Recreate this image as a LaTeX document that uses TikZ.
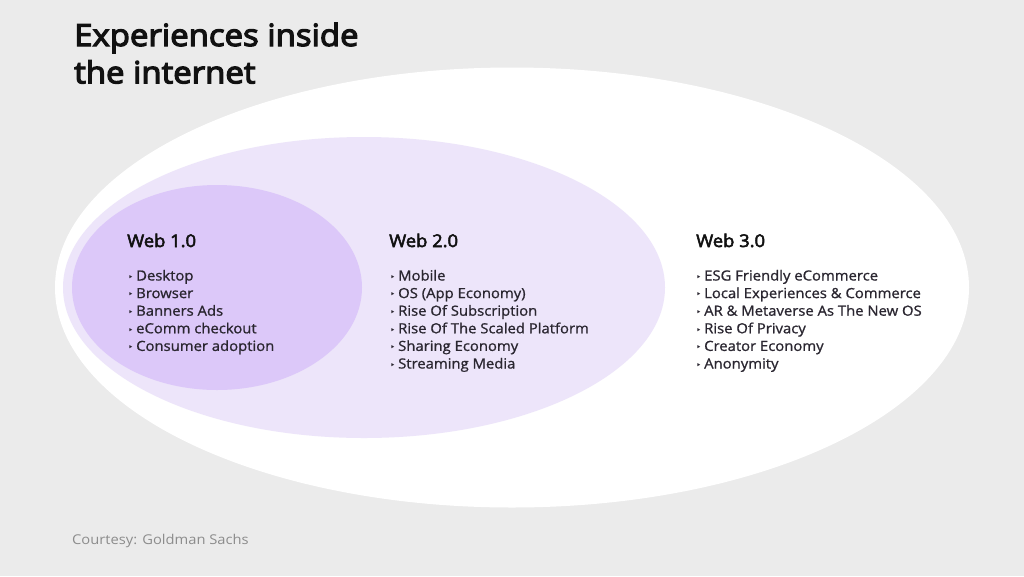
\documentclass[tikz,border=0pt]{standalone}
\usepackage{fontspec}
\setmainfont{Open Sans}
\newfontfamily\medfont[FakeBold=4,FakeStretch=1.08]{Open Sans}
\newfontfamily\headfont[FakeBold=3,FakeStretch=1.05]{Open Sans}
\newfontfamily\itemfont[FakeBold=1,FakeStretch=1.06]{Open Sans}
\newfontfamily\notefont[FakeStretch=1.09]{Open Sans}
\newfontfamily\symfont{DejaVu Sans}
\definecolor{bgc}{HTML}{EBEBEB}
\definecolor{midc}{HTML}{EDE5FA}
\definecolor{innc}{HTML}{DCC8F9}
\definecolor{titc}{HTML}{111111}
\definecolor{itc}{HTML}{2A2630}
\definecolor{grc}{HTML}{8C8C8C}
\newcommand\bul{\makebox[8pt][l]{\raisebox{0.3pt}{\symfont\fontsize{9}{9}\selectfont ‣}}}
\tikzset{
  titletext/.style={anchor=base west, inner sep=0pt, text=titc, font=\medfont\fontsize{30.5}{37}\selectfont},
  headtext/.style={anchor=base west, inner sep=0pt, text=titc, font=\headfont\fontsize{17.5}{20}\selectfont},
  itemtext/.style={anchor=base west, inner sep=0pt, text=itc, font=\itemfont\fontsize{14}{17}\selectfont},
  notetext/.style={anchor=base west, inner sep=0pt, text=grc, font=\notefont\fontsize{13.5}{15}\selectfont}
}
\begin{document}
\begin{tikzpicture}[x=1pt,y=-1pt]
\useasboundingbox (0,0) rectangle (1024,576);
\fill[bgc] (0,0) rectangle (1024,576);
\fill[white] (512,287.5) ellipse [x radius=457pt, y radius=220pt];
\fill[midc] (364,287.5) ellipse [x radius=301pt, y radius=150.5pt];
\fill[innc] (217,287.5) ellipse [x radius=145pt, y radius=102.5pt];

\node[titletext] (title1) at (74,46) {Experiences inside};
\node[titletext] (title2) at (74,83.3) {the internet};

\node[headtext] (w1) at (127,247) {Web 1.0};
\node[headtext] (w2) at (389,247) {Web 2.0};
\node[headtext] (w3) at (696,247) {Web 3.0};

\foreach \t [count=\i] in {Desktop, Browser, Banners Ads, eComm checkout, Consumer adoption}
  \node[itemtext] (w1i\i) at (128,{280.5+17.6*(\i-1)}) {\bul\t};
\foreach \t [count=\i] in {Mobile, OS (App Economy), Rise Of Subscription, Rise Of The Scaled Platform, Sharing Economy, Streaming Media}
  \node[itemtext] (w2i\i) at (390,{280.5+17.6*(\i-1)}) {\bul\t};
\foreach \t [count=\i] in {ESG Friendly eCommerce, Local Experiences \& Commerce, AR \& Metaverse As The New OS, Rise Of Privacy, Creator Economy, Anonymity}
  \node[itemtext] (w3i\i) at (696,{280.5+17.6*(\i-1)}) {\bul\t};

\node[notetext] (note) at (72,544.5) {Courtesy: Goldman Sachs};
\end{tikzpicture}
\end{document}
